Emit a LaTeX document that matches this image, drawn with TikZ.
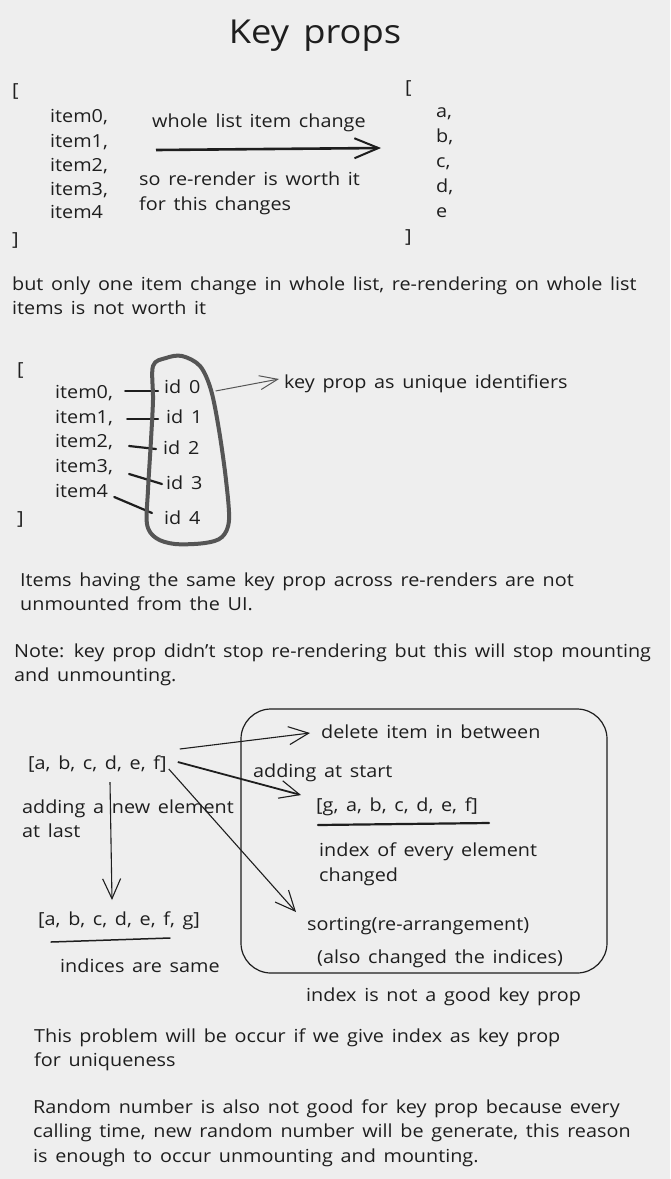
\documentclass[tikz,border=0pt]{standalone}
\usepackage{fontspec}
\setmainfont{Open Sans}[FakeStretch=1.1, WordSpace=1.5]
\usetikzlibrary{arrows.meta,calc}
\definecolor{bg}{HTML}{EEEEEE}
\definecolor{ink}{HTML}{1E1E1E}
\definecolor{blobc}{HTML}{555555}
\begin{document}
\begin{tikzpicture}[x=1pt,y=-1pt,
  txt/.style={anchor=base west, inner sep=0pt, text=ink, font=\fontsize{18}{24.5}\selectfont, align=left},
  titletxt/.style={anchor=base, inner sep=0pt, text=ink, font=\fontsize{33}{40}\selectfont},
  arrthick/.style={draw=ink, line width=2.6pt, -{Straight Barb[length=24pt,width=20pt,line width=2pt]}},
  arrthin/.style={draw=ink, line width=1.1pt, -{Straight Barb[length=20pt,width=18pt,line width=1.1pt]}},
  arrgray/.style={draw=ink!75, line width=1pt, -{Straight Barb[length=18pt,width=14pt,line width=1pt]}},
  link/.style={draw=ink, line width=2.2pt, line cap=round},
  uline/.style={draw=ink, line cap=round},
  blob/.style={draw=blobc, line width=4pt, line join=round},
  frame/.style={draw=ink, line width=1.2pt, rounded corners=30pt}]
\fill[bg] (0,0) rectangle (670,1179);
\useasboundingbox (0,0) rectangle (670,1179);

% title
\node[titletxt] (title) at (315,43) {Key props};

% section 1
\node[txt] (lbA) at (12,96) {[};
\node[txt] (iA0) at (50,122) {item0,};
\node[txt] (iA1) at (50,147) {item1,};
\node[txt] (iA2) at (50,171) {item2,};
\node[txt] (iA3) at (50,195) {item3,};
\node[txt] (iA4) at (50,218) {item4};
\node[txt] (rbA) at (12,245) {]};
\node[txt] (whole) at (152,127) {whole list item change};
\node[txt] (worth) at (139,210) {so re-render is worth it\\for this changes};
\node[txt] (lbB) at (405,93) {[};
\node[txt] (la) at (436,117) {a,};
\node[txt] (lb) at (436,142) {b,};
\node[txt] (lc) at (436,167) {c,};
\node[txt] (ld) at (436,192) {d,};
\node[txt] (le) at (436,217) {e};
\node[txt] (rbB) at (405,242) {]};
\coordinate (a1s) at (156,150);
\coordinate (a1e) at (381,148);
\draw[arrthick] (a1s) -- (a1e);

\node[txt] (para1) at (12,314.5) {but only one item change in whole list, re-rendering on whole list\\items is not worth it};

% section 2
\node[txt] (lbC) at (17,375) {[};
\node[txt] (i0) at (55,398) {item0,};
\node[txt] (i1) at (55,423) {item1,};
\node[txt] (i2) at (55,447) {item2,};
\node[txt] (i3) at (55,472) {item3,};
\node[txt] (i4) at (55,497) {item4};
\node[txt] (rbC) at (17,524) {]};
\node[txt] (id0) at (164,393) {id 0};
\node[txt] (id1) at (166,423) {id 1};
\node[txt] (id2) at (163,454) {id 2};
\node[txt] (id3) at (166,489) {id 3};
\node[txt] (id4) at (164,524) {id 4};
\draw[link] ([xshift=12pt,yshift=7pt]i0.base east) -- ([xshift=-6pt,yshift=2pt]id0.base west);
\draw[link] ([xshift=14pt,yshift=4pt]i1.base east) -- ([xshift=-8pt,yshift=4pt]id1.base west);
\draw[link] ([xshift=16pt,yshift=1pt]i2.base east) -- ([xshift=-7pt,yshift=5pt]id2.base west);
\draw[link] ([xshift=16pt,yshift=-2pt]i3.base east) -- ([xshift=-4pt,yshift=5pt]id3.base west);
\draw[link] ([xshift=6pt,yshift=0pt]i4.base east) -- ([xshift=-12pt,yshift=11pt]id4.base west);
\draw[blob] plot[smooth cycle, tension=0.55] coordinates {(153,366) (166,358) (182,356) (200,366) (211,390) (219,430) (226,480) (229,520) (222,537) (205,543) (175,544) (156,538) (147,524) (148,490) (151,440) (153,400)};
\node[txt] (keyid) at (284,388) {key prop as unique identifiers};
\draw[arrgray] ([xshift=15pt,yshift=2pt]id0.base east) -- ([xshift=-5pt,yshift=9pt]keyid.base west);

\node[txt] (para2) at (20,610.5) {Items having the same key prop across re-renders are not\\unmounted from the UI.};
\node[txt] (note) at (14,681.5) {Note: key prop didn't stop re-rendering but this will stop mounting\\and unmounting.};

% section 3
\draw[frame] (241,709) rectangle (607,973);
\node[txt] (del) at (321,738) {delete item in between};
\node[txt] (L1) at (28,769) {[a, b, c, d, e, f]};
\node[txt] (start) at (253,777) {adding at start};
\node[txt] (G) at (316,811) {[g, a, b, c, d, e, f]};
\draw[uline, line width=2.2pt] ([xshift=2pt,yshift=-14pt]G.base west) -- ([xshift=173pt,yshift=-12pt]G.base west);
\node[txt] (every) at (319,881) {index of every element\\changed};
\node[txt] (newel) at (22,837.5) {adding a new element\\at last};
\node[txt] (L2) at (38,925) {[a, b, c, d, e, f, g]};
\draw[uline, line width=1.5pt] ([xshift=13pt,yshift=-17pt]L2.base west) -- ([xshift=132pt,yshift=-13pt]L2.base west);
\node[txt] (same) at (60,972) {indices are same};
\node[txt] (sort) at (307,930) {sorting(re-arrangement)};
\node[txt] (also) at (317,963) {(also changed the indices)};
\node[txt] (notgood) at (306,1001) {index is not a good key prop};
\draw[arrthin] ([xshift=13pt,yshift=20pt]L1.base east) -- ([xshift=-11pt,yshift=5pt]del.base west);
\draw[arrthin, line width=1.8pt] ([xshift=11pt,yshift=7pt]L1.base east) -- ([xshift=-15pt,yshift=16pt]G.base west);
\draw[arrthin] ([xshift=2pt,yshift=0pt]L1.base east) -- ([xshift=-11pt,yshift=18pt]sort.base west);
\draw[arrthin] ([xshift=82pt,yshift=-13pt]L1.base west) -- ([xshift=74pt,yshift=25pt]L2.base west);

% section 4
\node[txt] (para3) at (34,1066.5) {This problem will be occur if we give index as key prop\\for uniqueness};
\node[txt] (para4) at (33,1162) {Random number is also not good for key prop because every\\calling time, new random number will be generate, this reason\\is enough to occur unmounting and mounting.};
\end{tikzpicture}
\end{document}
